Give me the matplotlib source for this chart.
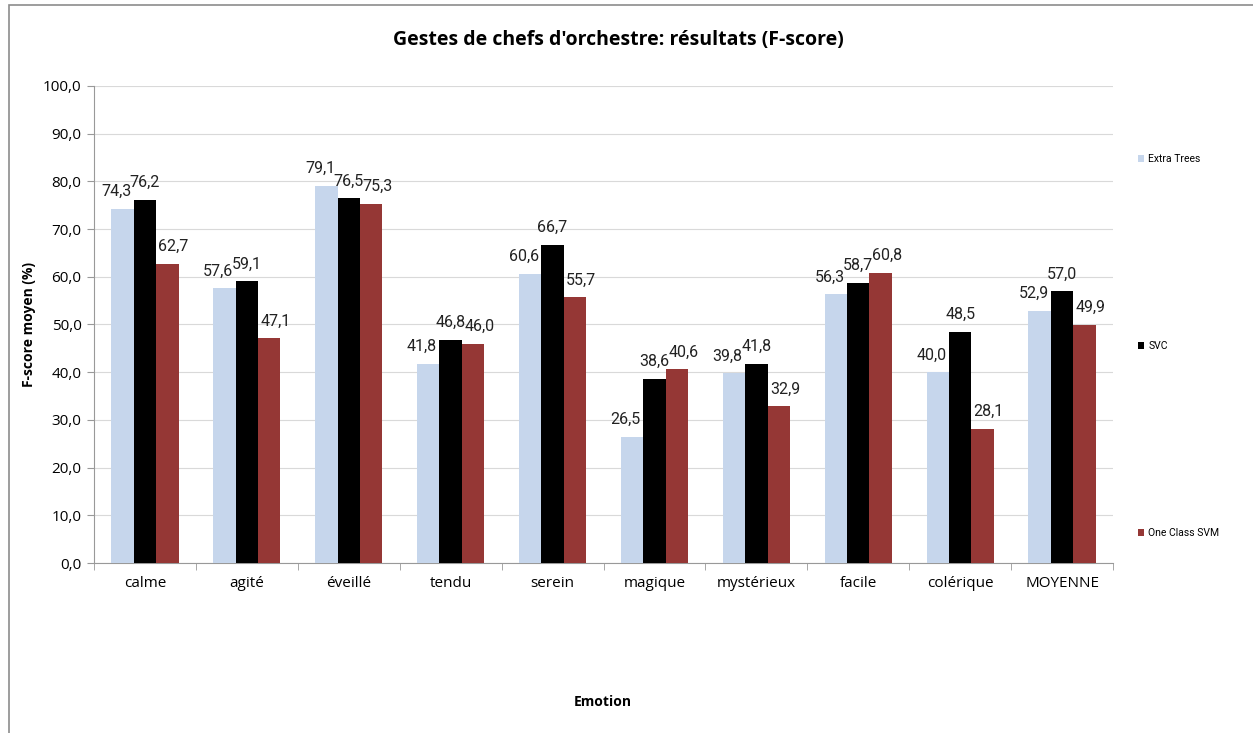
import numpy as np
import matplotlib.pyplot as plt
from matplotlib.patches import Rectangle
from matplotlib.ticker import FuncFormatter, FixedLocator

emotions = ["calme", "agité", "éveillé", "tendu", "serein", "magique",
            "mystérieux", "facile", "colérique", "MOYENNE"]
extra_trees = [74.3, 57.6, 79.1, 41.8, 60.6, 26.5, 39.8, 56.3, 40.0, 52.9]
svc = [76.2, 59.1, 76.5, 46.8, 66.7, 38.6, 41.8, 58.7, 48.5, 57.0]
one_class_svm = [62.7, 47.1, 75.3, 46.0, 55.7, 40.6, 32.9, 60.8, 28.1, 49.9]

series = [("Extra Trees", extra_trees, "#c6d6ec"),
          ("SVC", svc, "#000000"),
          ("One Class SVM", one_class_svm, "#953735")]

plt.rcParams['font.family'] = ['Open Sans', 'DejaVu Sans']

fig = plt.figure(figsize=(12.53, 7.33), dpi=100)
ax = fig.add_axes([0.075, 0.2319, 0.8133, 0.6508])

x = np.arange(len(emotions))
w = 0.22
handles = []
for k, (name, vals, col) in enumerate(series):
    pos = x + (k - 1) * w
    b = ax.bar(pos, vals, width=w, color=col, zorder=3, label=name)
    handles.append(b)
    for p, v in zip(pos, vals):
        ax.annotate(f"{v:.1f}".replace(".", ","), (p, v),
                    xytext=((k - 1) * 4.5, 7), textcoords="offset points",
                    ha="center", va="bottom", fontsize=11.5,
                    family=["Roboto", "DejaVu Sans"], color="#222222")

ax.set_xlim(-0.5, len(emotions) - 0.5)
ax.set_ylim(0, 100)
ax.set_yticks(np.arange(0, 101, 10))
ax.yaxis.set_major_formatter(FuncFormatter(lambda v, _: f"{v:.1f}".replace(".", ",")))
ax.set_xticks(x)
ax.set_xticklabels(emotions)
ax.xaxis.set_minor_locator(FixedLocator(np.arange(-0.5, len(emotions), 1)))
ax.tick_params(axis="x", which="major", length=0, pad=9, labelsize=11)
ax.tick_params(axis="x", which="minor", length=5, color="#999999")
ax.tick_params(axis="y", length=5, color="#999999", labelsize=11, pad=4)
ax.grid(axis="y", color="#d9d9d9", linewidth=0.8, zorder=0)
for s in ["top", "right"]:
    ax.spines[s].set_visible(False)
for s in ["left", "bottom"]:
    ax.spines[s].set_color("#999999")

ax.set_ylabel("F-score moyen (%)", fontsize=10, fontweight="bold", labelpad=5)
fig.text(0.481, 0.042, "Emotion", ha="center", va="center",
         fontsize=10, fontweight="bold")
fig.text(0.4936, 0.945, "Gestes de chefs d'orchestre: résultats (F-score)",
         ha="center", va="center", fontsize=14, fontweight="bold")

fig.legend(handles=handles, loc="upper left", bbox_to_anchor=(0.908, 0.79),
           frameon=False, labelspacing=17, handlelength=0.6,
           handleheight=0.6, handletextpad=0.4, borderaxespad=0,
           borderpad=0, prop={"family": ["Roboto", "DejaVu Sans"], "size": 7.5})

# outer frame (left and top edges)
fig.patches.append(Rectangle((9 / 1253, -0.1), 1.2, 1 - 5 / 733 + 0.1,
                             transform=fig.transFigure, fill=False,
                             edgecolor="#8c8c8c", linewidth=1.2))

fig.savefig("out.png", dpi=100)
